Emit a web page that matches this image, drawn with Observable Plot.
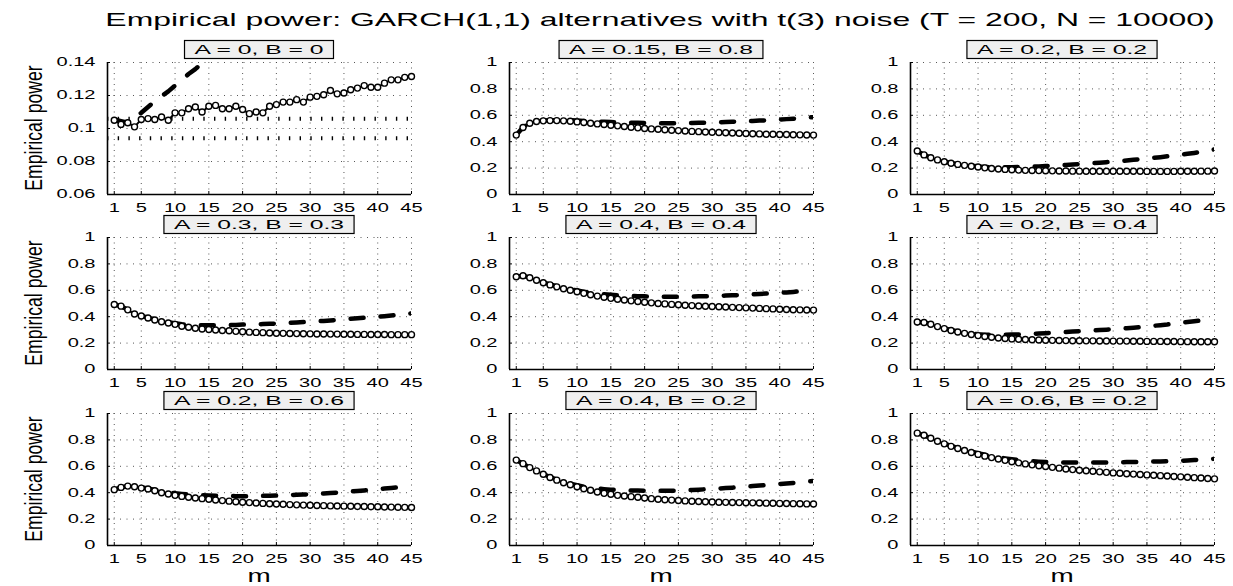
<!DOCTYPE html>
<html><head><meta charset="utf-8">
<script src="https://cdn.jsdelivr.net/npm/d3@7"></script>
<script src="https://cdn.jsdelivr.net/npm/@observablehq/plot@0.6"></script>
<style>
html,body{margin:0;padding:0;background:#fff;}
#chart{position:relative;width:1233px;height:586px;overflow:hidden;background:#fff;}
#chart svg{position:absolute;}
</style>
</head><body><div id="chart"></div>
<script>
// ---------------- data ----------------
const titleText = "Empirical power: GARCH(1,1) alternatives with t(3) noise (T = 200, N = 10000)";
const yAxisLabel = "Empirical power";
const xAxisLabel = "m";
const panelLabels = ["A = 0, B = 0", "A = 0.15, B = 0.8", "A = 0.2, B = 0.2",
                     "A = 0.3, B = 0.3", "A = 0.4, B = 0.4", "A = 0.2, B = 0.4",
                     "A = 0.2, B = 0.6", "A = 0.4, B = 0.2", "A = 0.6, B = 0.2"];
const m = [1,2,3,4,5,6,7,8,9,10,11,12,13,14,15,16,17,18,19,20,21,22,23,24,25,26,27,28,29,30,31,32,33,34,35,36,37,38,39,40,41,42,43,44,45];
const xTicks = [1,5,10,15,20,25,30,35,40,45];
const xTickLabels = ["1","5","10","15","20","25","30","35","40","45"];
const yTicksSize = [0.06,0.08,0.1,0.12,0.14];
const yTickLabelsSize = ["0.06","0.08","0.1","0.12","0.14"];
const yTicksPower = [0,0.2,0.4,0.6,0.8,1];
const yTickLabelsPower = ["0","0.2","0.4","0.6","0.8","1"];
const sizeBand = [0.0941, 0.1059];

const solid1 = [0.105,0.1025,0.1035,0.101,0.1055,0.106,0.1055,0.107,0.105,0.1095,0.1095,0.112,0.113,0.110,0.1135,0.114,0.112,0.112,0.1135,0.1115,0.109,0.110,0.1095,0.1135,0.1145,0.116,0.116,0.1175,0.116,0.119,0.1195,0.1205,0.123,0.121,0.1215,0.1235,0.1245,0.126,0.125,0.125,0.1275,0.1295,0.1295,0.131,0.1315];
const dashed1 = [0.1055,0.1045,0.1035,0.1065,0.1095,0.113,0.1165,0.1195,0.1225,0.126,0.1295,0.133,0.136,0.1395,0.143,0.146];
const solid2 = [0.45,0.508,0.54,0.553,0.558,0.56,0.56,0.558,0.555,0.55,0.545,0.54,0.535,0.53,0.525,0.52,0.515,0.51,0.505,0.50,0.497,0.494,0.49,0.487,0.484,0.481,0.478,0.476,0.474,0.472,0.47,0.468,0.466,0.464,0.462,0.46,0.459,0.457,0.456,0.455,0.454,0.453,0.452,0.451,0.45];
const dashed2 = [0.45,0.51,0.542,0.555,0.56,0.562,0.563,0.563,0.562,0.56,0.557,0.555,0.553,0.551,0.549,0.547,0.545,0.544,0.543,0.542,0.541,0.54,0.54,0.54,0.54,0.541,0.542,0.543,0.544,0.545,0.547,0.549,0.551,0.553,0.555,0.557,0.56,0.562,0.565,0.568,0.571,0.574,0.578,0.582,0.586];
const solid3 = [0.33,0.30,0.278,0.262,0.248,0.237,0.228,0.221,0.214,0.208,0.202,0.197,0.193,0.19,0.187,0.185,0.183,0.182,0.181,0.18,0.179,0.178,0.178,0.177,0.177,0.176,0.176,0.176,0.176,0.176,0.176,0.176,0.176,0.176,0.175,0.175,0.175,0.175,0.175,0.176,0.176,0.176,0.177,0.177,0.178];
const dashed3 = [0.33,0.30,0.278,0.262,0.249,0.238,0.23,0.224,0.218,0.213,0.21,0.208,0.207,0.207,0.207,0.208,0.209,0.211,0.213,0.215,0.218,0.221,0.224,0.227,0.23,0.233,0.237,0.241,0.245,0.249,0.253,0.258,0.263,0.268,0.273,0.278,0.283,0.289,0.295,0.301,0.308,0.315,0.323,0.332,0.342];
const solid4 = [0.492,0.48,0.452,0.42,0.405,0.39,0.375,0.362,0.352,0.342,0.328,0.32,0.313,0.307,0.303,0.299,0.296,0.293,0.289,0.286,0.283,0.281,0.279,0.277,0.275,0.274,0.273,0.272,0.271,0.27,0.269,0.269,0.268,0.268,0.267,0.267,0.266,0.266,0.265,0.265,0.265,0.264,0.264,0.264,0.264];
const dashed4 = [0.492,0.48,0.452,0.422,0.407,0.393,0.379,0.367,0.358,0.35,0.343,0.339,0.336,0.335,0.335,0.335,0.336,0.337,0.338,0.34,0.341,0.342,0.344,0.346,0.348,0.35,0.353,0.356,0.359,0.362,0.365,0.368,0.372,0.376,0.38,0.384,0.388,0.392,0.396,0.40,0.404,0.409,0.414,0.419,0.425];
const solid5 = [0.703,0.71,0.695,0.676,0.657,0.641,0.626,0.612,0.6,0.589,0.577,0.566,0.556,0.547,0.539,0.532,0.526,0.52,0.515,0.51,0.505,0.5,0.497,0.493,0.49,0.487,0.484,0.481,0.479,0.477,0.475,0.473,0.471,0.469,0.467,0.465,0.463,0.461,0.459,0.457,0.455,0.453,0.452,0.451,0.45];
const dashed5 = [0.703,0.71,0.696,0.678,0.66,0.645,0.631,0.619,0.608,0.598,0.589,0.581,0.575,0.57,0.566,0.562,0.559,0.557,0.555,0.554,0.553,0.552,0.552,0.552,0.552,0.552,0.553,0.554,0.555,0.556,0.558,0.56,0.562,0.564,0.566,0.569,0.572,0.575,0.578,0.581,0.584,0.588,0.592,0.596,0.6];
const solid6 = [0.36,0.356,0.343,0.325,0.31,0.296,0.284,0.274,0.265,0.257,0.25,0.244,0.239,0.235,0.232,0.229,0.227,0.225,0.223,0.222,0.221,0.22,0.219,0.218,0.218,0.217,0.217,0.216,0.216,0.215,0.215,0.215,0.214,0.214,0.213,0.213,0.213,0.212,0.212,0.211,0.211,0.21,0.21,0.21,0.21];
const dashed6 = [0.36,0.356,0.344,0.327,0.312,0.299,0.288,0.279,0.272,0.267,0.264,0.263,0.263,0.264,0.265,0.266,0.268,0.27,0.272,0.275,0.278,0.281,0.284,0.287,0.29,0.293,0.296,0.299,0.302,0.305,0.309,0.313,0.317,0.321,0.326,0.331,0.336,0.341,0.348,0.355,0.36,0.365,0.371,0.377,0.383];
const solid7 = [0.423,0.44,0.45,0.445,0.435,0.428,0.415,0.4,0.39,0.38,0.372,0.365,0.36,0.355,0.35,0.345,0.34,0.336,0.332,0.328,0.325,0.322,0.319,0.316,0.314,0.312,0.31,0.308,0.306,0.305,0.303,0.302,0.3,0.299,0.298,0.297,0.296,0.295,0.294,0.293,0.292,0.291,0.29,0.289,0.288];
const dashed7 = [0.423,0.44,0.45,0.446,0.44,0.432,0.421,0.41,0.402,0.396,0.391,0.387,0.384,0.381,0.379,0.377,0.376,0.375,0.374,0.374,0.374,0.375,0.376,0.377,0.378,0.38,0.382,0.384,0.386,0.388,0.391,0.394,0.397,0.401,0.405,0.409,0.413,0.417,0.421,0.426,0.431,0.436,0.441,0.447,0.453];
const solid8 = [0.647,0.62,0.59,0.565,0.54,0.515,0.495,0.475,0.46,0.445,0.43,0.418,0.405,0.395,0.388,0.38,0.375,0.37,0.365,0.36,0.355,0.35,0.347,0.344,0.341,0.338,0.335,0.333,0.331,0.329,0.328,0.327,0.326,0.325,0.324,0.323,0.322,0.321,0.32,0.319,0.318,0.317,0.316,0.315,0.314];
const dashed8 = [0.647,0.62,0.59,0.566,0.542,0.519,0.5,0.483,0.468,0.456,0.446,0.438,0.432,0.427,0.423,0.42,0.418,0.417,0.416,0.415,0.415,0.415,0.415,0.415,0.416,0.418,0.42,0.423,0.426,0.429,0.432,0.435,0.438,0.442,0.446,0.45,0.454,0.458,0.462,0.466,0.47,0.474,0.479,0.484,0.489];
const solid9 = [0.851,0.835,0.812,0.79,0.77,0.751,0.735,0.72,0.705,0.69,0.677,0.666,0.655,0.645,0.635,0.626,0.618,0.611,0.604,0.598,0.592,0.586,0.58,0.575,0.57,0.566,0.562,0.558,0.554,0.55,0.547,0.544,0.541,0.538,0.535,0.532,0.529,0.526,0.523,0.52,0.517,0.514,0.511,0.508,0.505];
const dashed9 = [0.851,0.835,0.812,0.791,0.772,0.754,0.739,0.725,0.711,0.699,0.688,0.677,0.668,0.66,0.653,0.647,0.642,0.638,0.635,0.633,0.631,0.63,0.629,0.628,0.628,0.628,0.628,0.628,0.629,0.63,0.631,0.632,0.633,0.634,0.635,0.636,0.637,0.638,0.64,0.642,0.644,0.647,0.65,0.653,0.657];

const solidSeries = [solid1, solid2, solid3, solid4, solid5, solid6, solid7, solid8, solid9];
const dashedSeries = [dashed1, dashed2, dashed3, dashed4, dashed5, dashed6, dashed7, dashed8, dashed9];

// ---------------- layout ----------------
const FONT = "'Liberation Sans', Arial, Helvetica, sans-serif";
const colX = [107, 509, 910];      // left axis position of each column
const rowY = [62, 237, 413];       // top of plot area of each row
const PW = 304, PH = 132;
const ML = 60, MR = 12, MT = 8, MB = 28;
const TICK_SCALE = 1.67;

const chart = document.getElementById("chart");

function stretch(el, s) {
  const L = el.getComputedTextLength();
  if (L > 0) {
    el.setAttribute("textLength", (L * s).toFixed(2));
    el.setAttribute("lengthAdjust", "spacingAndGlyphs");
  }
}

function makePanel(i) {
  const isSize = i === 0;
  const yDomain = isSize ? [0.06, 0.14] : [0, 1];
  const yTicks = isSize ? yTicksSize : yTicksPower;
  const yLabels = isSize ? yTickLabelsSize : yTickLabelsPower;
  const span = yDomain[1] - yDomain[0];
  const sData = m.map((x, j) => ({m: x, v: solidSeries[i][j]}));
  const dData = dashedSeries[i].map((v, j) => ({m: m[j], v}));
  const tx = 3 * 45 / PW, ty = 3 * span / PH;
  const marks = [
    Plot.ruleX(xTicks, {stroke: "#444", strokeWidth: 0.9, strokeDasharray: "1,4.5"}),
    Plot.ruleY(yTicks, {stroke: "#444", strokeWidth: 0.9, strokeDasharray: "1,5.5"})
  ];
  if (isSize) marks.push(Plot.ruleY(sizeBand, {x1: 0, x2: 45, stroke: "#000", strokeWidth: 4, strokeDasharray: "1.4,9.3"}));
  marks.push(
    Plot.line(dData, {x: "m", y: "v", stroke: "#000", strokeWidth: 4.5, strokeDasharray: "13,17", clip: true}),
    Plot.line(sData, {x: "m", y: "v", stroke: "#000", strokeWidth: 2}),
    Plot.dot(sData, {x: "m", y: "v", r: 3, fill: "#fff", stroke: "#000", strokeWidth: 1.4}),
    Plot.ruleY(yTicks, {x1: 0, x2: tx, stroke: "#000", strokeWidth: 1}),
    Plot.ruleX(xTicks, {y1: yDomain[0], y2: yDomain[0] + ty, stroke: "#000", strokeWidth: 1}),
    Plot.ruleX([0], {stroke: "#000", strokeWidth: 1.6}),
    Plot.ruleY([yDomain[0]], {stroke: "#000", strokeWidth: 1.6})
  );
  const svg = Plot.plot({
    width: ML + PW + MR, height: MT + PH + MB,
    marginLeft: ML, marginRight: MR, marginTop: MT, marginBottom: MB,
    style: {fontFamily: FONT, fontSize: "12px", background: "transparent", color: "#000", overflow: "visible"},
    x: {domain: [0, 45], ticks: xTicks, tickSize: 0, tickPadding: 9, label: null,
        tickFormat: d => xTickLabels[xTicks.indexOf(d)]},
    y: {domain: yDomain, ticks: yTicks, tickSize: 0, tickPadding: 12, label: null,
        tickFormat: d => yLabels[yTicks.indexOf(d)]},
    marks
  });
  const col = i % 3, row = Math.floor(i / 3);
  svg.style.left = (colX[col] - ML) + "px";
  svg.style.top = (rowY[row] - MT) + "px";
  chart.appendChild(svg);
  svg.querySelectorAll('[aria-label^="x-axis"] text, [aria-label^="y-axis"] text')
     .forEach(t => stretch(t, TICK_SCALE));
}
for (let i = 0; i < 9; i++) makePanel(i);

// ---------------- overlay: title, labels, panel boxes ----------------
const ov = d3.select(chart).append("svg")
  .attr("width", 1233).attr("height", 586)
  .style("left", "0px").style("top", "0px")
  .style("font-family", FONT);

ov.append("text").text(titleText)
  .attr("text-anchor", "middle").attr("font-size", 19)
  .attr("transform", "translate(660,25.5) scale(1.68,1)");

for (let r = 0; r < 3; r++) {
  ov.append("text").text(yAxisLabel)
    .attr("text-anchor", "middle").attr("font-size", 23.5)
    .attr("transform", `translate(42,${rowY[r] + PH / 2}) rotate(-90) scale(0.75,1)`);
}
for (let c = 0; c < 3; c++) {
  ov.append("text").text(xAxisLabel)
    .attr("text-anchor", "middle").attr("font-size", 18)
    .attr("transform", `translate(${colX[c] + PW / 2},581.8) scale(1.55,1)`);
}
for (let i = 0; i < 9; i++) {
  const col = i % 3, row = Math.floor(i / 3);
  const cx = colX[col] + PW / 2, cy = rowY[row] - 12.5;
  const g = ov.append("g");
  const rect = g.append("rect");
  const t = g.append("text").text(panelLabels[i])
    .attr("text-anchor", "middle").attr("font-size", 13)
    .attr("transform", `translate(${cx},${cy + 4.7}) scale(1.9,1)`);
  const w = t.node().getComputedTextLength() * 1.9 + 20;
  rect.attr("x", cx - w / 2).attr("y", cy - 9).attr("width", w).attr("height", 18)
    .attr("fill", "#efefef").attr("stroke", "#000").attr("stroke-width", 1.2);
}
</script>
</body></html>
